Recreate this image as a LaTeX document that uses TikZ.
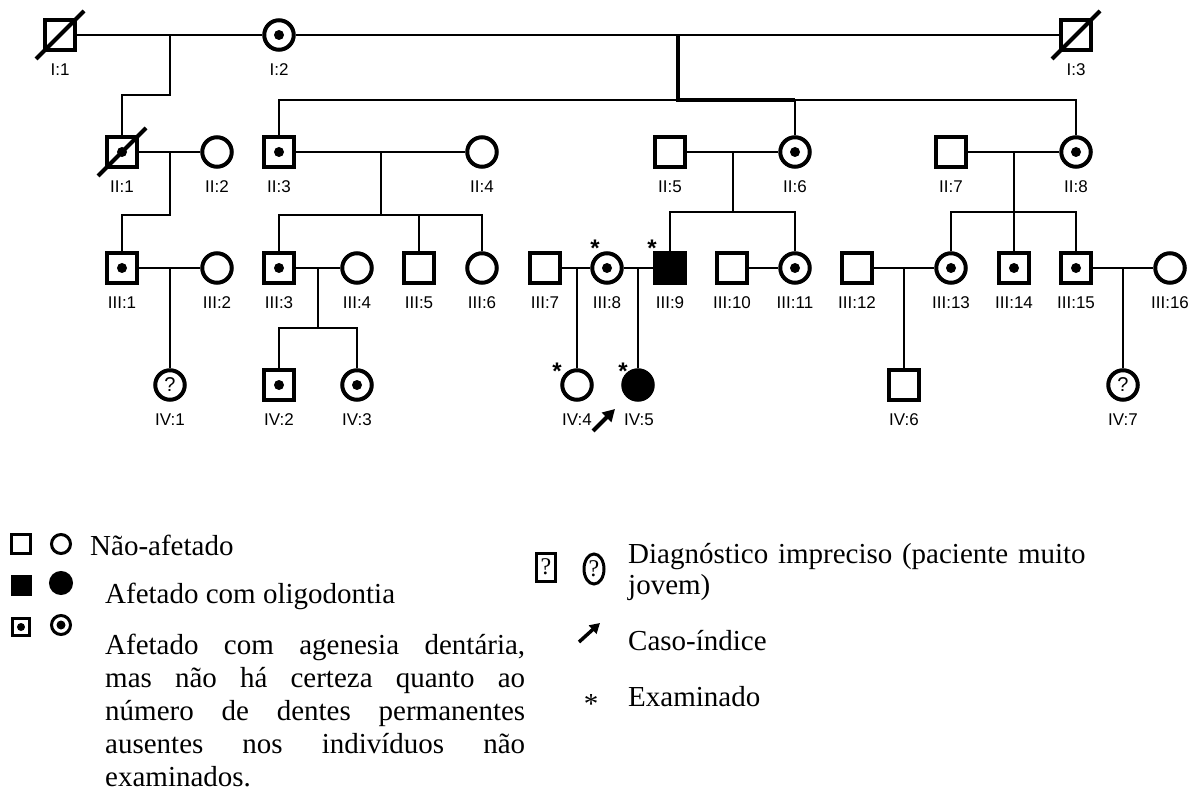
\documentclass[tikz,border=0pt]{standalone}
\usepackage{fontspec}
\setmainfont{Liberation Serif}
\setsansfont{Liberation Sans}
\usetikzlibrary{arrows.meta,shapes.geometric}

\tikzset{
  indiv/.style={draw, line width=4pt, inner sep=0pt},
  male/.style={indiv, rectangle, minimum size=30pt},
  female/.style={indiv, circle, minimum size=29.5pt},
  carrier/.style={path picture={\fill (path picture bounding box.center) circle[radius=#1];}},
  carrier/.default=5pt,
  affected/.style={fill=black},
  lbl/.style={font=\sffamily\fontsize{17}{20}\selectfont, inner sep=0pt},
  qmark/.style={font=\sffamily\fontsize{20}{20}\selectfont},
  examined/.style={font=\sffamily\bfseries\fontsize{24}{24}\selectfont, inner sep=0pt},
  link/.style={line width=2.8pt},
  heavylink/.style={line width=4.2pt},
  slash/.style={line width=4pt},
  keysym/.style={indiv, line width=3pt},
  keytext/.style={font=\fontsize{29}{33}\selectfont, inner sep=0pt, anchor=base west},
  proband/.style={line width=4pt, -{Triangle[length=12pt,width=13pt]}},
}

% individual plus its identifier underneath
\newcommand\pers[5]{%
  \node[#4] (#1) at (#2,#3) {};
  \node[lbl] (#1-l) at (#2,#3+35) {#5};}

\begin{document}
\begin{tikzpicture}[x=1pt,y=-1pt]
\useasboundingbox (0,0) rectangle (1201,791);

% ---------- generation I ----------
\pers{I1}{60}{35}{male}{I:1}
\pers{I2}{279}{35}{female,carrier}{I:2}
\pers{I3}{1076}{35}{male}{I:3}

% ---------- generation II ----------
\pers{II1}{122}{152}{male,carrier}{II:1}
\pers{II2}{217}{152}{female}{II:2}
\pers{II3}{279}{152}{male,carrier}{II:3}
\pers{II4}{482}{152}{female}{II:4}
\pers{II5}{670}{152}{male}{II:5}
\pers{II6}{795}{152}{female,carrier}{II:6}
\pers{II7}{951}{152}{male}{II:7}
\pers{II8}{1076}{152}{female,carrier}{II:8}

% ---------- generation III ----------
\pers{III1}{122}{268}{male,carrier}{III:1}
\pers{III2}{217}{268}{female}{III:2}
\pers{III3}{279}{268}{male,carrier}{III:3}
\pers{III4}{357}{268}{female}{III:4}
\pers{III5}{419}{268}{male}{III:5}
\pers{III6}{482}{268}{female}{III:6}
\pers{III7}{545}{268}{male}{III:7}
\pers{III8}{607}{268}{female,carrier}{III:8}
\pers{III9}{670}{268}{male,affected}{III:9}
\pers{III10}{732}{268}{male}{III:10}
\pers{III11}{795}{268}{female,carrier}{III:11}
\pers{III12}{857}{268}{male}{III:12}
\pers{III13}{951}{268}{female,carrier}{III:13}
\pers{III14}{1014}{268}{male,carrier}{III:14}
\pers{III15}{1076}{268}{male,carrier}{III:15}
\pers{III16}{1170}{268}{female}{III:16}

% ---------- generation IV ----------
\node[female,qmark] (IV1) at (170,385) {?};
\node[lbl] (IV1-l) at (170,420) {IV:1};
\pers{IV2}{279}{385}{male,carrier}{IV:2}
\pers{IV3}{357}{385}{female,carrier}{IV:3}
\node[lbl] (IV4-l) at (577,420) {IV:4};
\node[female] (IV4) at (577,385) {};
\node[lbl] (IV5-l) at (639,420) {IV:5};
\node[female,affected] (IV5) at (638,385) {};
\pers{IV6}{904}{385}{male}{IV:6}
\node[female,qmark] (IV7) at (1123,385) {?};
\node[lbl] (IV7-l) at (1123,420) {IV:7};

% ---------- deceased ----------
\foreach \p in {I1,I3,II1}
  \draw[slash] ([shift={(-24,24)}]\p.center) -- ([shift={(24,-24)}]\p.center);

% ---------- mating and descent points ----------
\coordinate (mI12) at (170,35);   \coordinate (sI12) at (170,95);
\coordinate (mI23) at (678,35);   \coordinate (sI23) at (678,100);
\coordinate (mII12) at (170,152); \coordinate (sII12) at (170,215);
\coordinate (mII34) at (381,152); \coordinate (sII34) at (381,215);
\coordinate (mII56) at (733,152); \coordinate (sII56) at (733,212);
\coordinate (mII78) at (1014,152);\coordinate (sII78) at (1014,212);
\coordinate (mIII12) at (170,268);
\coordinate (mIII34) at (318,268); \coordinate (sIII34) at (318,328);
\coordinate (mIII78) at (577,268);
\coordinate (mIII89) at (638,268);
\coordinate (mIII1213) at (904,268);
\coordinate (mIII1516) at (1123,268);

% ---------- couples ----------
\draw[link] (I1.east) -- (I2.west);
\draw[link] (I2.east) -- (I3.west);
\draw[link] (II1.east) -- (II2.west);
\draw[link] (II3.east) -- (II4.west);
\draw[link] (II5.east) -- (II6.west);
\draw[link] (II7.east) -- (II8.west);
\draw[link] (III1.east) -- (III2.west);
\draw[link] (III3.east) -- (III4.west);
\draw[link] (III7.east) -- (III8.west);
\draw[link] (III8.east) -- (III9.west);
\draw[link] (III10.east) -- (III11.west);
\draw[link] (III12.east) -- (III13.west);
\draw[link] (III15.east) -- (III16.west);

% ---------- descent lines ----------
\draw[link] (mI12) -- (sI12) -- (II1.north |- sI12) -- (II1.north);

\draw[link] (II3.north) -- (II3.north |- sI23) -- (II8.north |- sI23) -- (II8.north);
\draw[heavylink] (mI23) -- (sI23) -- (II6.north |- sI23);
\draw[link] (II6.north |- sI23) -- (II6.north);

\draw[link] (mII12) -- (sII12) -- (III1.north |- sII12) -- (III1.north);

\draw[link] (mII34) -- (sII34);
\draw[link] (III3.north) -- (III3.north |- sII34) -- (III6.north |- sII34) -- (III6.north);
\draw[link] (III5.north |- sII34) -- (III5.north);

\draw[link] (mII56) -- (sII56);
\draw[link] (III9.north) -- (III9.north |- sII56) -- (III11.north |- sII56) -- (III11.north);

\draw[link] (mII78) -- (III14.north);
\draw[link] (III13.north) -- (III13.north |- sII78) -- (III15.north |- sII78) -- (III15.north);

\draw[link] (mIII12) -- (IV1.north);
\draw[link] (mIII34) -- (sIII34);
\draw[link] (IV2.north) -- (IV2.north |- sIII34) -- (IV3.north |- sIII34) -- (IV3.north);
\draw[link] (mIII78) -- (IV4.north);
\draw[link] (mIII89) -- (IV5.north);
\draw[link] (mIII1213) -- (IV6.north);
\draw[link] (mIII1516) -- (IV7.north);

% ---------- examined individuals ----------
\node[examined] (ex1) at (595,248) {*};
\node[examined] (ex2) at (652,248) {*};
\node[examined] (ex3) at (557,371) {*};
\node[examined] (ex4) at (623,371) {*};

% ---------- proband ----------
\coordinate (pr1) at (593,431);
\coordinate (pr2) at (615,409);
\draw[proband] (pr1) -- (pr2);

% ---------- key ----------
\node[keysym, rectangle, minimum size=19pt] (k1a) at (21,544) {};
\node[keysym, circle, minimum size=19pt] (k1b) at (61,544) {};
\node[keytext] (k1t) at (90,555) {Não-afetado};

\node[keysym, rectangle, minimum size=18pt, fill=black] (k2a) at (21,585) {};
\node[keysym, circle, minimum size=21pt, fill=black] (k2b) at (61,583) {};
\node[keytext] (k2t) at (105,603) {Afetado com oligodontia};

\node[keysym, rectangle, minimum size=17pt, carrier=4pt] (k3a) at (21,627) {};
\node[keysym, circle, minimum size=19pt, carrier=4.5pt] (k3b) at (61,625) {};
\node[keytext, text width=420pt, align=justify] (k3t) at (105,654)
  {\hbadness=10000 Afetado com agenesia dentária,\linebreak
   mas não há certeza quanto ao\linebreak
   número de dentes permanentes\linebreak
   ausentes nos indivíduos não\linebreak
   examinados.};

\node[keysym, rectangle, minimum width=19pt, minimum height=28pt,
      font=\fontsize{24}{24}\selectfont] (k4a) at (546,567) {?};
\node[keysym, ellipse, minimum width=20pt, minimum height=30pt,
      font=\fontsize{24}{24}\selectfont] (k4b) at (594,569) {?};
\node[keytext, text width=560pt, align=left, font=\fontsize{29}{31}\selectfont]
  (k4t) at (628,563) {Diagnóstico impreciso (paciente muito\\jovem)};

\coordinate (ka1) at (579,642);
\coordinate (ka2) at (600,623);
\draw[line width=3.5pt, -{Triangle[length=10pt,width=11pt]}] (ka1) -- (ka2);
\node[keytext] (k5t) at (628,650) {Caso-índice};

\node[inner sep=0pt, font=\fontsize{29}{33}\selectfont] (k6s) at (591,704) {*};
\node[keytext] (k6t) at (628,706) {Examinado};
\end{tikzpicture}
\end{document}
